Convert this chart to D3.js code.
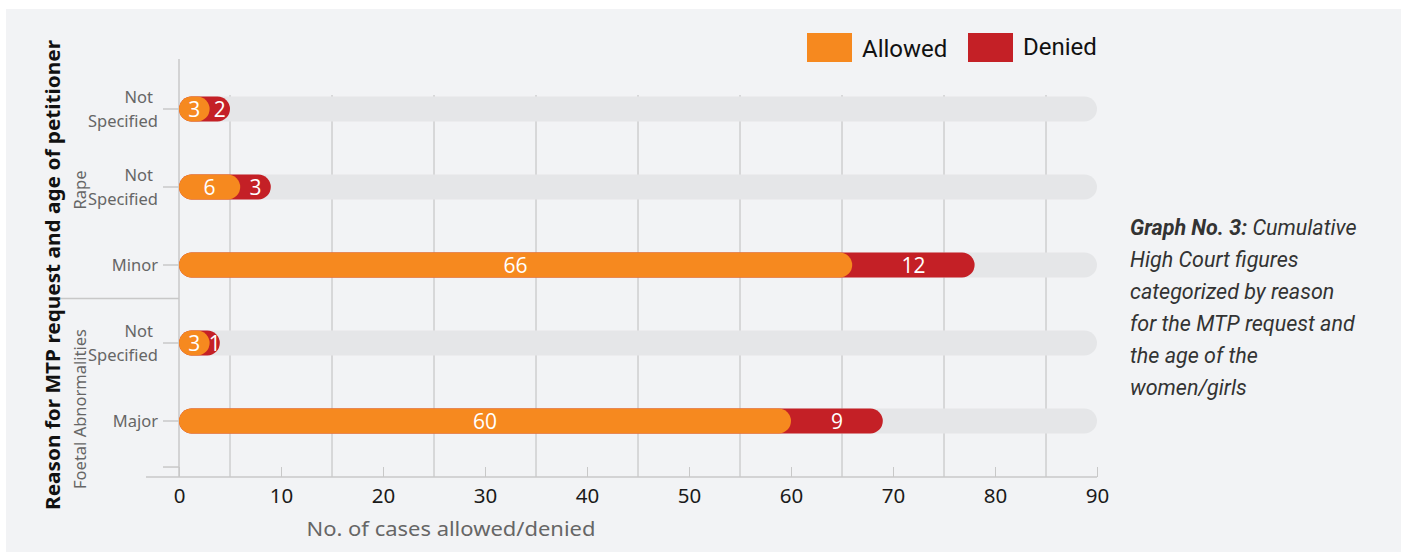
<!DOCTYPE html>
<html><head><meta charset="utf-8">
<script src="https://cdn.jsdelivr.net/npm/d3@7"></script>
<style>body{margin:0;background:#fff} svg{display:block}</style>
</head><body>
<svg id="chart" width="1407" height="557"></svg>
<script>
// ---- data ----
const groups = ["Rape", "Rape", "Rape", "Foetal Abnormalities", "Foetal Abnormalities"];
const categories = ["Not Specified", "Not Specified", "Minor", "Not Specified", "Major"];
const allowed = [3, 6, 66, 3, 60];
const denied = [2, 3, 12, 1, 9];
const xTickValues = [0, 10, 20, 30, 40, 50, 60, 70, 80, 90];
const gridValues = [5, 15, 25, 35, 45, 55, 65, 75, 85];
const seriesNames = ["Allowed", "Denied"];
const seriesColors = ["#F6891F", "#C42026"];
const yTitle = "Reason for MTP request and age of petitioner";
const xTitle = "No. of cases allowed/denied";
const captionBold = "Graph No. 3:";
const captionLines = [" Cumulative", "High Court figures", "categorized by reason", "for the MTP request and", "the age of the", "women/girls"];

// ---- layout ----
const svg = d3.select("#chart");
const FONT = "'Noto Sans', sans-serif";
const axisY = 477, gridTop = 95, yAxisTop = 59;
const barH = 25;

svg.append("rect").attr("x", 6).attr("y", 9).attr("width", 1395).attr("height", 543).attr("fill", "#f2f3f5");

const x = d3.scaleLinear().domain([0, 90]).range([179, 1097]);
const rows = d3.range(categories.length);
const y = d3.scalePoint().domain(rows).range([109, 421]);

// gridlines
svg.append("g").selectAll("line").data(gridValues).join("line")
  .attr("x1", d => x(d)).attr("x2", d => x(d))
  .attr("y1", gridTop).attr("y2", axisY)
  .attr("stroke", "#bcbcbc").attr("stroke-width", 1);

// x axis
const xAxis = svg.append("g").attr("transform", `translate(0,${axisY})`)
  .call(d3.axisBottom(x).tickValues(xTickValues).tickSizeInner(-10).tickSizeOuter(0).tickPadding(11));
xAxis.select(".domain").remove();
xAxis.selectAll(".tick line").attr("stroke", "#c8c8c8");
xAxis.selectAll(".tick text").attr("font-family", FONT).attr("font-size", 20.5).attr("fill", "#1a1a1a");
svg.append("line").attr("x1", 146).attr("x2", x(90)).attr("y1", axisY).attr("y2", axisY)
  .attr("stroke", "#c8c8c8").attr("stroke-width", 1.5);

// y axis line
svg.append("line").attr("x1", x(0)).attr("x2", x(0)).attr("y1", yAxisTop).attr("y2", axisY)
  .attr("stroke", "#c8c8c8").attr("stroke-width", 1.5);
// category ticks
const step = y.step();
svg.append("g").selectAll("line").data(rows.concat(["end"])).join("line")
  .attr("x1", 163).attr("x2", x(0))
  .attr("y1", d => d === "end" ? y(rows.length - 1) + step * 0.59 : y(d))
  .attr("y2", d => d === "end" ? y(rows.length - 1) + step * 0.59 : y(d))
  .attr("stroke", "#c8c8c8").attr("stroke-width", 1.5);
// group separators
const sepIdx = rows.filter(i => i > 0 && groups[i] !== groups[i - 1]);
svg.append("g").selectAll("line").data(sepIdx).join("line")
  .attr("x1", 60).attr("x2", x(0))
  .attr("y1", i => y(i - 1) + step * 0.43).attr("y2", i => y(i - 1) + step * 0.43)
  .attr("stroke", "#c8c8c8").attr("stroke-width", 1.5);

// category labels
const catG = svg.append("g").attr("font-family", FONT).attr("font-size", 16.5).attr("fill", "#666").attr("text-anchor", "end");
rows.forEach(i => {
  const words = categories[i].split(" ");
  const t = catG.append("text").attr("x", 158).attr("y", y(i));
  if (words.length === 1) {
    t.attr("dy", "0.35em").text(words[0]);
  } else {
    t.append("tspan").attr("x", 153).attr("dy", "-0.36em").text(words[0]);
    t.append("tspan").attr("x", 158).attr("dy", "1.48em").text(words.slice(1).join(" "));
  }
});

// group labels
const groupNames = Array.from(new Set(groups));
const groupOffsets = {"Rape": 3, "Foetal Abnormalities": 27};
groupNames.forEach(g => {
  const idx = rows.filter(i => groups[i] === g);
  const cy = d3.mean(idx, i => y(i)) + (groupOffsets[g] || 0);
  svg.append("text").attr("transform", `translate(86,${cy}) rotate(-90)`)
    .attr("text-anchor", "middle").attr("font-family", FONT).attr("font-size", 16.5)
    .attr("fill", "#666").text(g);
});

// y title
svg.append("text").attr("transform", `translate(60,275) rotate(-90)`)
  .attr("text-anchor", "middle").attr("font-family", FONT).attr("font-weight", 700)
  .attr("font-size", 20).attr("fill", "#111")
  .attr("textLength", 470).attr("lengthAdjust", "spacingAndGlyphs").text(yTitle);

// x title
svg.append("text").attr("x", 451).attr("y", 536).attr("text-anchor", "middle")
  .attr("font-family", FONT).attr("font-size", 19.5).attr("fill", "#666")
  .attr("textLength", 289).attr("lengthAdjust", "spacingAndGlyphs").text(xTitle);

// tracks
svg.append("g").selectAll("rect").data(rows).join("rect")
  .attr("x", x(0)).attr("y", i => y(i) - barH / 2)
  .attr("width", x(90) - x(0)).attr("height", barH).attr("rx", barH / 2)
  .attr("fill", "#e5e6e8");
// denied (stacked after allowed, drawn underneath)
svg.append("g").selectAll("rect").data(rows).join("rect")
  .attr("x", x(0)).attr("y", i => y(i) - barH / 2)
  .attr("width", i => x(allowed[i] + denied[i]) - x(0)).attr("height", barH).attr("rx", barH / 2)
  .attr("fill", seriesColors[1]);
svg.append("g").selectAll("rect").data(rows).join("rect")
  .attr("x", x(0)).attr("y", i => y(i) - barH / 2)
  .attr("width", i => x(allowed[i]) - x(0)).attr("height", barH).attr("rx", barH / 2)
  .attr("fill", seriesColors[0]);

// value labels
const lblG = svg.append("g").attr("font-family", "'Open Sans', sans-serif").attr("font-size", 21)
  .attr("fill", "#fff").attr("text-anchor", "middle");
rows.forEach(i => {
  lblG.append("text").attr("x", (x(0) + x(allowed[i])) / 2).attr("y", y(i)).attr("dy", "0.36em").text(allowed[i]);
  lblG.append("text").attr("x", (x(allowed[i]) + x(allowed[i] + denied[i])) / 2).attr("y", y(i)).attr("dy", "0.36em").text(denied[i]);
});

// legend
const legendX = [807, 968];
const legendBase = [57, 55];
seriesNames.forEach((s, k) => {
  svg.append("rect").attr("x", legendX[k]).attr("y", 33).attr("width", 45).attr("height", 29).attr("fill", seriesColors[k]);
  svg.append("text").attr("x", legendX[k] + 55).attr("y", legendBase[k])
    .attr("font-family", "Roboto, sans-serif").attr("font-size", 24).attr("fill", "#111").text(s);
});

// caption
const cap = svg.append("g").attr("font-family", "Roboto, sans-serif").attr("font-size", 21.5)
  .attr("font-style", "italic").attr("fill", "#333");
captionLines.forEach((l, k) => {
  const t = cap.append("text").attr("x", 1130).attr("y", 235 + k * 32);
  if (k === 0) t.append("tspan").attr("font-weight", 700).text(captionBold);
  t.append("tspan").text(l);
});
</script>
</body></html>
